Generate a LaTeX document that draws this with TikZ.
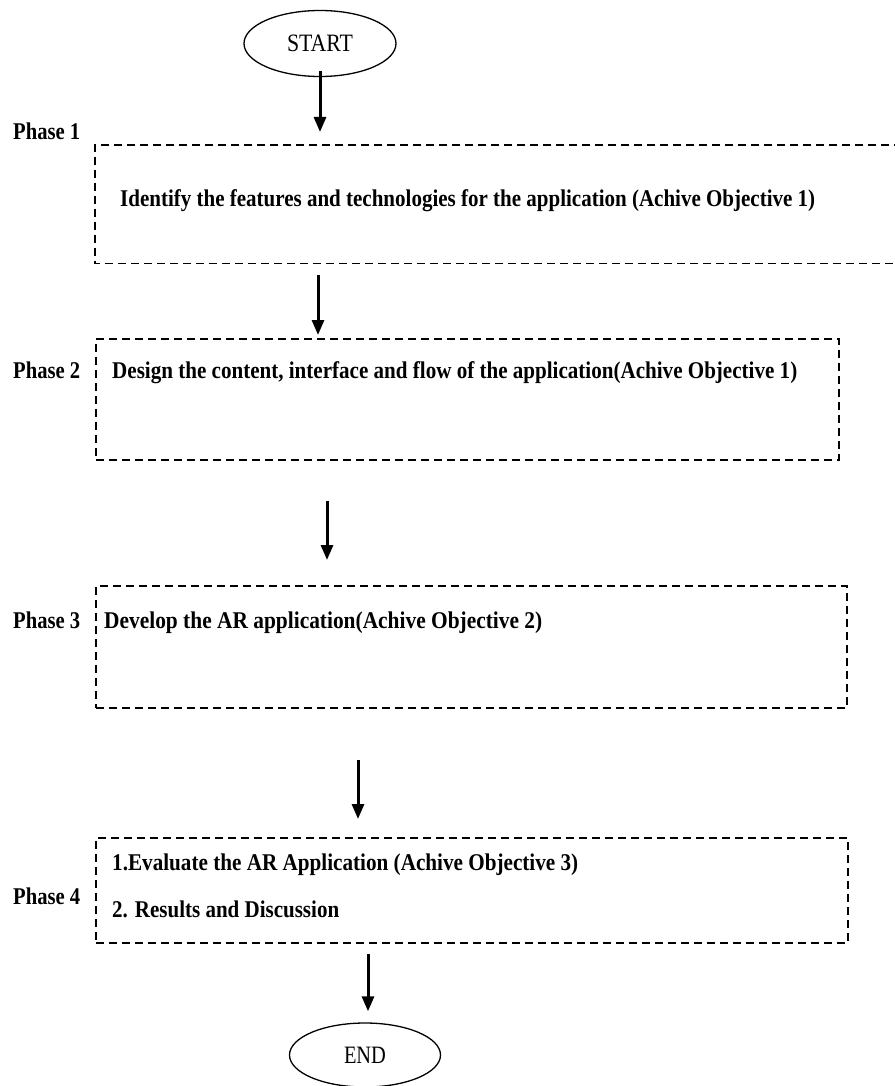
\documentclass[tikz,border=0pt]{standalone}
\usepackage{fontspec}
\setmainfont{Liberation Serif}
\usepackage{graphicx}
\usetikzlibrary{arrows.meta,shapes.geometric}
\newcommand{\fitto}[2]{\resizebox{#1}{\height}{#2}}
\begin{document}
\begin{tikzpicture}[x=1pt,y=-1pt,
  dashline/.style={dash pattern=on 8pt off 5pt, line width=1.8pt},
  phasebox/.style={draw, dashline, rectangle, inner sep=0pt, anchor=north west},
  openbox/.style={rectangle, inner sep=0pt, anchor=north west},
  term/.style={draw, ellipse, line width=1.3pt, inner sep=0pt, minimum width=152pt, minimum height=66pt, font=\fontsize{25}{28}\selectfont},
  lbl/.style={anchor=base west, inner sep=0pt, font=\fontsize{24}{28}\selectfont\bfseries},
  arr/.style={line width=3pt, -{Triangle[length=15pt,width=12pt]}}]
\useasboundingbox (0,0) rectangle (894,1086);
\fill[white] (0,0) rectangle (894,1086);
% terminals
\node[term] (start) at (320,43.5) {\fitto{66pt}{START}};
\node[term, minimum width=151pt, minimum height=64pt] (end) at (365,1055) {\fitto{42pt}{END}};
% boxes
\node[openbox, minimum width=820pt, minimum height=118pt] (b1) at (95,145) {};
\draw[dashline] (b1.north east) -- (b1.north west) -- (b1.south west) -- (b1.south east);
\node[phasebox, minimum width=743pt, minimum height=121pt] (b2) at (95,338) {};
\node[phasebox, minimum width=751pt, minimum height=122pt] (b3) at (95,585) {};
\node[phasebox, minimum width=752pt, minimum height=105pt] (b4) at (95,837) {};
% labels
\node[lbl] (l1) at (13,140) {\fitto{67pt}{Phase 1}};
\node[lbl] (l2) at (13,378) {\fitto{67pt}{Phase 2}};
\node[lbl] (l3) at (13,628) {\fitto{67pt}{Phase 3}};
\node[lbl] (l4) at (13,904) {\fitto{67pt}{Phase 4}};
% texts
\node[lbl] (t1) at (120,207) {\fitto{695pt}{Identify the features and technologies for the application (Achive Objective 1)}};
\node[lbl] (t2) at (112,378) {\fitto{685pt}{Design the content, interface and flow of the application(Achive Objective 1)}};
\node[lbl] (t3) at (104,628) {\fitto{438pt}{Develop the AR application(Achive Objective 2)}};
\node[lbl] (t4a) at (112,870) {\fitto{466pt}{1.Evaluate the AR Application (Achive Objective 3)}};
\node[lbl] (t4b) at (112,917) {\fitto{227pt}{2. Results and Discussion}};
% arrow positions
\coordinate (a2) at (318,0);
\coordinate (a3) at (327,0);
\coordinate (a4) at (358,0);
\coordinate (a5) at (368,0);
% arrows
\draw[arr, shorten <=-6pt, shorten >=13pt] (start.south) -- (start.south |- b1.north);
\draw[arr, shorten <=12pt, shorten >=3pt] (b1.south -| a2) -- (b2.north -| a2);
\draw[arr, shorten <=40pt, shorten >=25pt] (b2.south -| a3) -- (b3.north -| a3);
\draw[arr, shorten <=51pt, shorten >=18pt] (b3.south -| a4) -- (b4.north -| a4);
\draw[arr, shorten <=10pt, shorten >=11pt] (b4.south -| a5) -- (end.north -| a5);
\end{tikzpicture}
\end{document}
